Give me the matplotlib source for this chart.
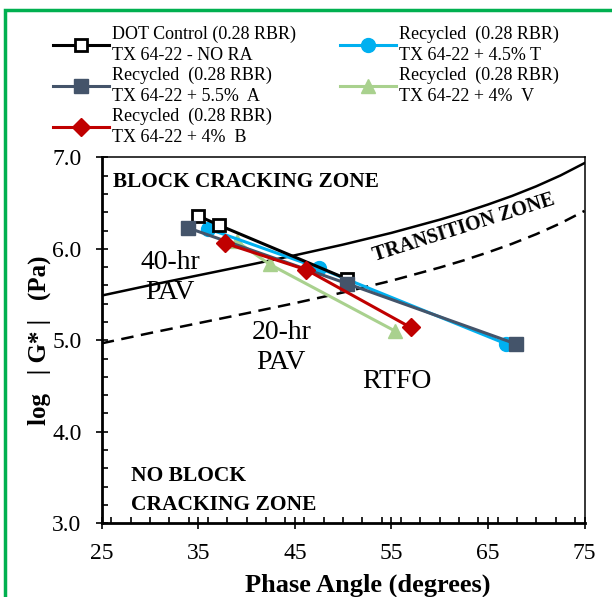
import matplotlib
matplotlib.use("Agg")
import matplotlib.pyplot as plt
from matplotlib.patches import Rectangle
from matplotlib.ticker import MultipleLocator, FormatStrFormatter

plt.rcParams['font.family'] = ['Liberation Serif', 'DejaVu Serif']

# phase angle (deg) / log|G*| (Pa)
dot_x = [35.0, 37.1, 50.4]
dot_y = [6.36, 6.26, 5.67]
t_x = [36.0, 47.5, 66.9]
t_y = [6.22, 5.79, 4.96]
a_x = [33.9, 50.4, 67.9]
a_y = [6.23, 5.62, 4.96]
b_x = [37.8, 46.2, 57.0]
b_y = [6.06, 5.77, 5.14]
v_x = [39.0, 42.4, 55.4]
v_y = [6.08, 5.83, 5.10]

# boundary curves (block cracking criteria)
curve_x = [25, 30, 35, 40, 45, 50, 55, 60, 62.5, 65, 67.5, 70, 72.5, 75]
upper_y = [5.489, 5.602, 5.710, 5.818, 5.929, 6.046, 6.174, 6.318, 6.397,
           6.484, 6.578, 6.683, 6.801, 6.937]
lower_y = [4.967, 5.079, 5.187, 5.295, 5.406, 5.523, 5.651, 5.795, 5.874,
           5.961, 6.055, 6.160, 6.278, 6.414]

x_ticks = [25, 35, 45, 55, 65, 75]

fig = plt.figure(figsize=(6.12, 5.97), dpi=100)
ax = fig.add_axes([0.1662, 0.1235, 0.7889, 0.613])

ax.plot(curve_x, upper_y, color='black', lw=1.8, zorder=2)
ax.plot(curve_x, lower_y, color='black', lw=1.8, dashes=(5, 3), zorder=2)

lw = 2.2
h_v, = ax.plot(v_x, v_y, color='#A9D18E', lw=lw, marker='^', ms=10, zorder=3,
               label='Recycled  (0.28 RBR)\nTX 64-22 + 4%  V')
h_t, = ax.plot(t_x, t_y, color='#00B0F0', lw=lw, marker='o', ms=10, zorder=4,
               label='Recycled  (0.28 RBR)\nTX 64-22 + 4.5% T')
h_dot, = ax.plot(dot_x, dot_y, color='black', lw=lw, marker='s', ms=9,
                 mfc='white', mec='black', mew=2, zorder=5,
                 label='DOT Control (0.28 RBR)\nTX 64-22 - NO RA')
h_a, = ax.plot(a_x, a_y, color='#44546A', lw=lw, marker='s', ms=10, zorder=6,
               label='Recycled  (0.28 RBR)\nTX 64-22 + 5.5%  A')
h_b, = ax.plot(b_x, b_y, color='#C00000', lw=lw, marker='D', ms=9, zorder=7,
               label='Recycled  (0.28 RBR)\nTX 64-22 + 4%  B')

ax.set_xlim(25, 75)
ax.set_ylim(3.0, 7.0)
ax.set_xticks(x_ticks)
ax.xaxis.set_minor_locator(MultipleLocator(2))
ax.yaxis.set_major_locator(MultipleLocator(1))
ax.yaxis.set_minor_locator(MultipleLocator(0.2))
ax.yaxis.set_major_formatter(FormatStrFormatter('%.1f'))
ax.tick_params(which='major', direction='inout', length=9, width=1.2,
               labelsize=17, pad=10)
ax.tick_params(which='minor', direction='in', length=4, width=1.2)
for s in ['left', 'bottom']:
    ax.spines[s].set_linewidth(2)
for s in ['top', 'right']:
    ax.spines[s].set_linewidth(1.1)

ax.set_xlabel('Phase Angle (degrees)', fontsize=19, fontweight='bold')
ax.set_ylabel('log   | G* |   (Pa)', fontsize=18, fontweight='bold')
ax.xaxis.set_label_coords(0.552, -0.137)
ax.yaxis.set_label_coords(-0.105, 0.5)

ax.text(26.15, 6.73, 'BLOCK CRACKING ZONE', fontsize=15.3, fontweight='bold',
        va='center', ha='left')
ax.text(62.5, 6.235, 'TRANSITION ZONE', fontsize=14.5, fontweight='bold',
        va='center', ha='center', rotation=17.5)
ax.text(32.07, 5.845, '40-hr', fontsize=20, va='center', ha='center')
ax.text(32.07, 5.517, 'PAV', fontsize=20, va='center', ha='center')
ax.text(43.6, 5.08, '20-hr', fontsize=20, va='center', ha='center')
ax.text(43.6, 4.76, 'PAV', fontsize=20, va='center', ha='center')
ax.text(55.6, 4.55, 'RTFO', fontsize=20, va='center', ha='center')
ax.text(28.0, 3.52, 'NO BLOCK', fontsize=15.5, fontweight='bold',
        va='center', ha='left')
ax.text(28.0, 3.20, 'CRACKING ZONE', fontsize=15.5, fontweight='bold',
        va='center', ha='left')

leg = fig.legend(handles=[h_dot, h_a, h_b, h_t, h_v], ncol=2, frameon=False,
                 loc='upper left', bbox_to_anchor=(0.075, 0.969), fontsize=13,
                 handlelength=3.1, handletextpad=0.15, columnspacing=2.45,
                 labelspacing=0.15, borderaxespad=0)
for t in leg.get_texts():
    t.set_linespacing(1.3)

fig.patches.append(Rectangle((0.008, -0.1), 1.2, 1.083,
                             transform=fig.transFigure, fill=False,
                             edgecolor='#00B050', lw=2.5))

fig.savefig('out.png', dpi=100)
